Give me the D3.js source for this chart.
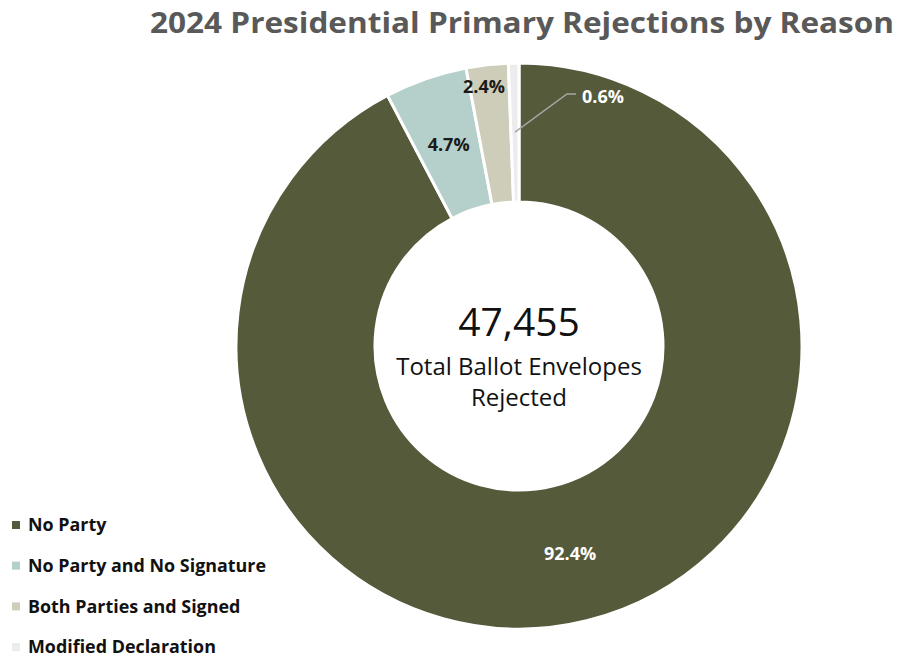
<!DOCTYPE html>
<html><head><meta charset="utf-8">
<script src="https://cdn.jsdelivr.net/npm/d3@7"></script>
<style>body{margin:0;background:#fff}svg{display:block}</style>
</head><body>
<script>
const categories = ["No Party","No Party and No Signature","Both Parties and Signed","Modified Declaration"];
const values = [92.4, 4.7, 2.4, 0.6];
const labels = ["92.4%","4.7%","2.4%","0.6%"];
const colors = ["#545a3a","#b5cfcb","#cdcdb9","#ececec"];
const labelColors = ["#ffffff","#1a1a1a","#1a1a1a","#ffffff"];
const totalText = "47,455";
const titleText = "2024 Presidential Primary Rejections by Reason";

const W = 902, H = 659;
const svg = d3.select("body").append("svg").attr("width", W).attr("height", H);
const font = "'Open Sans', Lato, sans-serif";

svg.append("text").attr("x", 522).attr("y", 33).attr("text-anchor","middle")
  .attr("font-family", font).attr("font-weight","bold").attr("font-size", 29)
  .attr("textLength", 744).attr("lengthAdjust","spacingAndGlyphs")
  .attr("fill","#595959").text(titleText);

const cx = 519, cy = 346, rO = 283, rI = 144;
const g = svg.append("g").attr("transform",`translate(${cx},${cy})`);
const pie = d3.pie().sort(null).value(d => d)(values);
const arc = d3.arc().innerRadius(rI).outerRadius(rO);
g.selectAll("path").data(pie).join("path")
  .attr("d", arc).attr("fill", (d,i) => colors[i])
  .attr("stroke","#fff").attr("stroke-width",3);

// labels
const labelArc = d3.arc().innerRadius((rI+rO)/2).outerRadius((rI+rO)/2);
pie.forEach((d,i) => {
  let [x,y] = labelArc.centroid(d);
  let anchor = "middle";
  if (i === 2) { y = -rO + 24; x = x - 11; }
  if (i === 3) {
    const a = (d.startAngle + d.endAngle)/2;
    const r0 = rO - 69;
    const p0 = [Math.sin(a)*r0, -Math.cos(a)*r0];
    const p1 = [567-cx, 94-cy];
    const p2 = [576-cx, 94-cy];
    g.append("polyline").attr("points",[p0,p1,p2].map(p=>p.join(",")).join(" "))
      .attr("fill","none").attr("stroke","#a6a6a6").attr("stroke-width",1.5);
    x = 582-cx; y = 97-cy; anchor = "start";
  }
  g.append("text").attr("x", x).attr("y", y).attr("dy","0.35em")
    .attr("text-anchor", anchor).attr("font-family", font).attr("font-weight","bold")
    .attr("font-size", 18).attr("fill", labelColors[i]).text(labels[i]);
});

// center text
g.append("text").attr("y", -24).attr("dy","0.35em").attr("text-anchor","middle")
  .attr("font-family", font).attr("font-size", 39).attr("fill","#111").text(totalText);
g.append("text").attr("y", 21).attr("dy","0.35em").attr("text-anchor","middle")
  .attr("font-family", font).attr("font-size", 24).attr("fill","#111").text("Total Ballot Envelopes");
g.append("text").attr("y", 52).attr("dy","0.35em").attr("text-anchor","middle")
  .attr("font-family", font).attr("font-size", 24).attr("fill","#111").text("Rejected");

// legend
const leg = svg.append("g");
categories.forEach((c,i) => {
  const y = 525 + i*40.7;
  leg.append("rect").attr("x", 12).attr("y", y-4).attr("width", 8).attr("height", 8).attr("fill", colors[i]);
  leg.append("text").attr("x", 28).attr("y", y).attr("dy","0.35em")
    .attr("font-family", font).attr("font-weight","bold").attr("font-size", 17.9)
    .attr("fill","#111").text(c);
});
</script>
</body></html>
